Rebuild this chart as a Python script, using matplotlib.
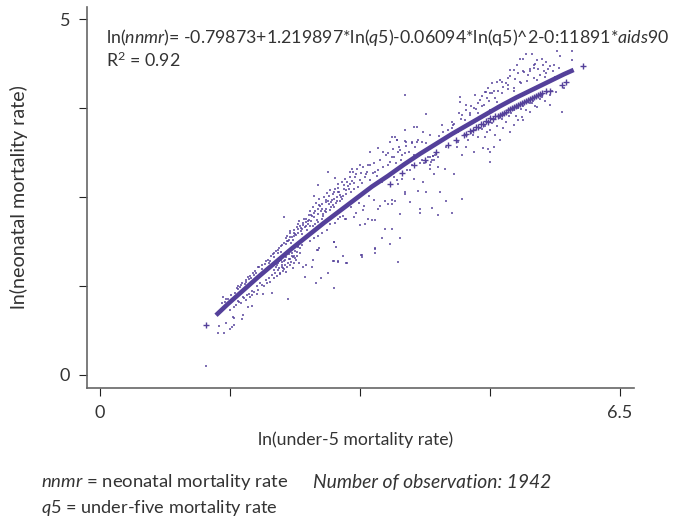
# ln(neonatal mortality) against ln(under-5 mortality)
import matplotlib
matplotlib.use("Agg")
import matplotlib.pyplot as plt

purple = "#54409a"
ink = "#333333"

plt.rcParams["font.family"] = ["Lato", "DejaVu Sans"]
plt.rcParams["mathtext.fontset"] = "custom"
plt.rcParams["mathtext.rm"] = "Lato"
plt.rcParams["mathtext.it"] = "Lato:italic"

# fitted band, aids90 = 0
curve_x = [1.45, 1.6, 1.8, 2.0, 2.2, 2.4, 2.6, 2.8, 3.0, 3.2, 3.4, 3.6, 3.8,
           4.0, 4.2, 4.4, 4.6, 4.8, 5.0, 5.2, 5.4, 5.6, 5.8, 5.92]
curve_y = [0.84, 1.0, 1.2, 1.4, 1.59, 1.78, 1.96, 2.14, 2.31, 2.48, 2.65, 2.8, 2.96,
           3.11, 3.25, 3.39, 3.52, 3.65, 3.78, 3.9, 4.01, 4.12, 4.23, 4.29]

# fitted values, aids90 = 1
band_x = [3.62, 3.78, 3.92, 4.06, 4.2, 4.35, 4.45, 4.55, 4.62, 4.7, 4.76, 4.82, 4.88, 4.94,
          5.0, 5.05, 5.1, 5.15, 5.2, 5.25, 5.3, 5.35, 5.4, 5.45, 5.5, 5.62, 5.78, 5.83,
          4.58, 4.66, 4.73, 4.79, 4.85, 4.91, 4.97, 5.03, 5.08, 5.13, 5.18, 5.23, 5.28, 5.33, 5.38, 5.43, 5.48, 5.53, 5.58]
band_y = [2.69, 2.84, 2.95, 3.03, 3.13, 3.24, 3.31, 3.38, 3.43, 3.49, 3.53, 3.57, 3.61, 3.64,
          3.66, 3.69, 3.72, 3.75, 3.78, 3.81, 3.84, 3.87, 3.89, 3.92, 3.95, 4.0, 4.08, 4.12,
          3.39, 3.44, 3.49, 3.525, 3.56, 3.6, 3.64, 3.675, 3.705, 3.735, 3.765, 3.79, 3.82, 3.85, 3.88, 3.91, 3.935, 3.96, 3.99]

# lone fitted values at both ends
end_x = [1.33, 6.04]
end_y = [0.7, 4.34]

# observations, low end
low_x = [1.33, 1.47, 1.55, 1.49, 1.58, 1.63, 1.65, 1.68, 1.66, 1.68, 1.79, 1.77, 1.85, 1.9, 2.35, 1.54, 1.57, 1.52, 1.71, 2.15, 2.04, 1.96,
         1.72, 1.75, 1.78, 1.82, 1.85, 1.88, 1.91, 1.94, 1.97, 1.99, 1.74, 1.8, 1.84, 1.87, 1.9, 1.93, 1.96, 1.98, 2.0, 2.02,
         2.03, 2.06, 2.08, 2.1, 2.12, 2.14, 2.16, 2.18, 2.2, 2.22, 2.24, 2.26, 2.28, 2.3, 2.05, 2.07, 2.09, 2.11, 2.13, 2.15, 2.17, 2.19, 2.21, 2.23, 2.25, 2.27, 2.29, 2.31,
         2.2, 2.22, 2.24, 2.26, 2.28, 2.3, 2.32, 2.34, 2.36, 2.38, 2.4, 2.42, 2.44, 2.46, 2.48, 2.5, 2.25, 2.29, 2.33, 2.37, 2.41, 2.45, 2.49, 2.27, 2.31, 2.35, 2.39, 2.43, 2.47,
         2.32, 2.34, 2.36, 2.38, 2.4, 2.42, 2.44, 2.46, 2.48, 2.5, 2.52, 2.54, 2.56, 2.58, 2.6, 2.33, 2.37, 2.41, 2.45, 2.49, 2.53, 2.57, 2.61, 2.35, 2.39, 2.43, 2.47, 2.51, 2.55, 2.59]
low_y = [0.12, 0.59, 0.59, 0.69, 0.73, 0.65, 0.68, 0.7, 0.82, 0.8, 0.84, 0.79, 0.96, 0.97, 1.07, 1.1, 1.07, 1.01, 1.22, 1.15, 1.14, 1.14,
         1.25, 1.24, 1.3, 1.33, 1.38, 1.39, 1.44, 1.46, 1.52, 1.52, 1.03, 1.08, 1.12, 1.1, 1.18, 1.17, 1.25, 1.2, 1.29, 1.26,
         1.54, 1.56, 1.6, 1.62, 1.61, 1.68, 1.7, 1.71, 1.74, 1.76, 1.78, 1.82, 1.83, 1.86, 1.25, 1.33, 1.29, 1.36, 1.31, 1.4, 1.37, 1.44, 1.39, 1.48, 1.42, 1.52, 1.46, 1.55,
         1.52, 1.58, 1.5, 1.62, 1.55, 1.6, 1.66, 1.52, 1.7, 1.63, 1.72, 1.58, 1.75, 1.68, 1.8, 1.72, 1.44, 1.5, 1.45, 1.55, 1.5, 1.62, 1.57, 1.66, 1.68, 1.74, 1.76, 1.68, 1.82,
         1.92, 1.96, 1.9, 2.0, 1.94, 2.04, 1.98, 2.08, 2.0, 2.1, 2.05, 2.14, 2.08, 2.2, 2.12, 1.84, 2.02, 1.9, 1.97, 2.16, 1.98, 2.1, 2.25, 1.88, 1.86, 1.95, 2.12, 2.02, 2.2, 2.04]

# observations, middle
mid_x = [2.92, 2.7, 2.76, 2.85, 2.56, 2.91, 2.97, 3.09, 3.04, 3.26, 3.27, 3.44, 3.44, 2.54, 2.65, 2.58, 2.66, 2.71, 2.74, 2.92, 2.95, 2.3,
         2.62, 2.64, 2.66, 2.68, 2.7, 2.72, 2.74, 2.76, 2.78, 2.8, 2.82, 2.84, 2.86, 2.88, 2.9, 2.92, 2.94, 2.96, 2.98, 3.0,
         2.63, 2.67, 2.71, 2.75, 2.79, 2.83, 2.87, 2.91, 2.95, 2.99, 3.02, 3.04, 3.06, 3.08, 3.1, 3.12, 3.14, 3.16, 3.18, 3.2,
         2.65, 2.69, 2.73, 2.77, 2.81, 2.85, 2.89, 2.93, 2.97, 3.01, 3.05, 3.09, 3.13, 3.17, 3.21, 3.25, 3.29, 3.33, 3.37, 3.41,
         2.62, 2.68, 2.72, 2.78, 2.84, 2.88, 2.94, 2.98, 3.04, 3.08, 3.14, 3.2, 3.24, 3.3, 3.36, 3.42,
         3.625, 3.75, 3.65, 3.56, 3.53, 3.44, 3.48, 3.5, 3.6, 3.56, 3.44, 3.35, 3.4, 3.29, 3.31, 3.25, 3.17, 3.06, 3.0, 2.92, 2.73, 2.92, 2.98, 3.08, 3.27, 3.73,
         2.85, 2.73, 2.67, 2.94, 3.15, 3.25, 3.375, 3.47, 3.54, 3.625, 3.71, 3.6, 3.67, 3.42, 3.48, 3.35,
         3.44, 3.5, 3.54, 3.58, 3.62, 3.66, 3.7, 3.74, 3.78, 3.82, 3.86, 3.9, 3.94, 3.98]
mid_y = [1.22, 1.29, 1.36, 1.43, 1.38, 1.6, 1.6, 1.58, 1.67, 1.69, 1.66, 1.77, 1.72, 1.52, 1.52, 1.55, 1.62, 1.76, 1.79, 1.87, 1.8, 2.22,
         2.3, 2.16, 2.36, 2.22, 2.42, 2.26, 2.48, 2.3, 2.4, 2.5, 2.34, 2.56, 2.4, 2.6, 2.46, 2.36, 2.62, 2.5, 2.68, 2.44,
         2.1, 2.28, 2.18, 2.38, 2.24, 2.46, 2.32, 2.54, 2.42, 2.58, 2.72, 2.52, 2.76, 2.6, 2.66, 2.78, 2.58, 2.86, 2.7, 2.82,
         2.24, 2.12, 2.34, 2.2, 2.3, 2.44, 2.36, 2.48, 2.58, 2.5, 2.62, 2.72, 2.68, 2.62, 2.9, 2.74, 2.92, 2.82, 2.96, 2.84,
         1.88, 1.92, 1.96, 2.0, 2.04, 2.12, 2.14, 2.2, 2.24, 2.2, 2.36, 2.28, 2.42, 2.38, 2.52, 2.46,
         1.84, 1.92, 2.06, 2.05, 1.92, 1.78, 2.34, 2.38, 2.41, 2.44, 2.18, 2.2, 2.18, 2.32, 2.13, 2.11, 2.225, 2.2, 2.22, 1.87, 1.76, 1.6, 1.59, 1.58, 1.69, 1.59,
         2.86, 2.67, 2.52, 2.77, 2.9, 2.95, 3.13, 3.19, 3.14, 3.28, 3.3, 3.12, 3.07, 2.98, 2.88, 2.95,
         2.86, 3.02, 2.92, 3.1, 3.0, 3.18, 2.98, 3.2, 3.1, 3.22, 3.14, 3.28, 3.2, 3.3]

# observations, upper end
high_x = [3.81, 4.08, 3.92, 3.96, 4.04, 4.12, 3.81, 4.27, 4.29, 4.4, 4.41, 4.48, 4.5, 4.5, 4.58, 4.67, 4.69, 4.75, 4.81, 4.88, 4.96, 4.49, 4.52, 4.625, 4.73, 4.875,
          3.65, 3.69, 3.81, 3.83, 3.71, 3.75, 3.9, 3.96, 4.02,
          3.65, 3.73, 3.81, 3.77, 3.71, 3.73, 3.875, 3.9, 3.92, 4.04, 3.81, 3.81, 3.98, 4.08, 4.25, 4.125, 4.17, 4.125, 4.15, 4.19, 4.23, 4.31, 4.42, 4.46, 4.52, 4.58, 4.67, 4.79, 4.875, 4.875, 4.52, 4.33, 3.875, 4.0, 4.15, 4.0, 4.23, 4.4, 3.75, 3.65, 3.69, 3.65,
          4.02, 4.05, 4.08, 4.1, 4.12, 4.14, 4.16, 4.18, 4.2, 4.22,
          3.46, 3.52, 3.6, 3.68, 3.76, 3.84, 3.92, 4.0, 4.08, 4.16, 4.24, 4.32, 4.4, 4.48, 4.56,
          5.71, 5.75, 5.9, 5.9, 5.4, 5.33, 5.52, 5.25, 5.29, 5.46, 5.44, 5.58, 5.21, 5.29, 5.125, 5.17, 5.375, 5.42, 5.54, 5.6, 5.69, 5.56, 5.46, 5.35, 5.25, 5.1, 5.0, 4.9, 4.96, 4.85, 4.83, 5.04, 5.1, 5.17, 4.77, 4.92,
          5.77, 5.625, 5.46, 5.375, 5.29, 5.23, 5.17, 5.04, 4.94, 5.0, 4.92, 4.85, 4.875, 4.81, 5.27, 5.125, 5.4, 5.52,
          4.6, 4.66, 4.72, 4.78, 4.84, 4.9, 4.96, 5.02, 5.08, 5.14, 5.2, 5.26, 5.32, 5.38, 5.44, 5.5, 5.56, 5.62, 5.7, 5.8,
          4.62, 4.7, 4.78, 4.86, 4.94, 5.02, 5.1, 5.18, 5.26, 5.34, 5.42, 5.5, 5.58, 5.66, 5.74]
high_y = [3.94, 3.67, 3.49, 3.49, 3.42, 3.37, 3.45, 3.51, 3.42, 3.56, 3.52, 3.42, 3.91, 3.84, 3.8, 3.75, 3.94, 3.87, 3.98, 3.96, 3.84, 3.68, 3.66, 3.68, 3.68, 3.73,
          3.35, 3.35, 3.29, 3.28, 3.3, 3.16, 3.26, 3.28, 3.28,
          3.07, 3.14, 3.12, 2.76, 2.74, 2.69, 2.88, 2.95, 2.76, 2.71, 2.58, 2.54, 2.59, 2.58, 2.58, 2.89, 2.83, 3.07, 3.02, 3.09, 2.93, 2.9, 2.83, 3.21, 3.09, 3.21, 3.14, 3.19, 3.14, 3.0, 2.47, 2.45, 2.43, 2.34, 2.35, 2.28, 2.25, 2.28, 2.26, 2.46, 2.45, 2.4,
          3.02, 2.98, 3.0, 3.06, 2.95, 3.0, 3.08, 3.02, 3.12, 3.06,
          2.8, 2.72, 2.95, 2.78, 3.03, 2.88, 3.1, 2.98, 3.26, 3.08, 3.36, 3.2, 3.47, 3.28, 3.58,
          4.55, 4.48, 4.55, 4.43, 4.51, 4.52, 4.45, 4.45, 4.45, 4.43, 4.38, 4.4, 4.36, 4.28, 4.29, 4.29, 4.31, 4.36, 4.36, 4.31, 4.19, 4.19, 4.15, 4.22, 4.12, 4.17, 4.15, 4.1, 4.12, 4.03, 3.98, 4.05, 4.08, 4.0, 3.93, 4.0,
          3.7, 3.79, 3.77, 3.7, 3.58, 3.58, 3.51, 3.47, 3.37, 3.3, 3.21, 3.18, 3.44, 3.35, 3.63, 3.42, 3.82, 3.91,
          3.3, 3.38, 3.34, 3.46, 3.42, 3.54, 3.5, 3.6, 3.56, 3.68, 3.64, 3.74, 3.72, 3.82, 3.78, 3.88, 3.86, 3.94, 3.98, 4.04,
          3.66, 3.74, 3.78, 3.86, 3.9, 3.96, 4.02, 4.04, 4.1, 4.14, 4.18, 4.22, 4.24, 4.27, 4.32]

# observations in the dense parts of the cloud
dense_x = [2.61, 2.64, 2.66, 2.69, 2.72, 2.74, 2.77, 2.79, 2.82, 2.83, 2.86, 2.89, 2.91, 2.93, 2.96, 2.97, 3.0, 3.03, 3.05, 3.07, 3.11, 3.13, 3.15, 3.19, 3.22, 3.26, 3.28, 3.31, 3.34, 3.38,
           2.03, 2.11, 2.17, 2.23, 2.26, 2.34, 2.38, 2.43, 2.47, 2.51, 2.54, 2.57, 2.6, 2.3, 2.35, 2.39, 2.41, 2.44, 2.18, 2.21, 2.24, 2.28, 2.31, 2.36, 2.4, 2.46, 2.5, 2.53,
           1.56, 1.6, 1.64, 1.69, 1.73, 1.76, 1.81, 1.83, 1.86, 1.89, 1.92, 1.95, 1.62, 1.67, 1.7, 1.73, 1.76, 1.79, 1.83, 1.86, 1.9,
           4.35, 4.43, 4.51, 4.57, 4.64, 4.72, 4.8, 4.84, 4.9, 4.97, 5.03, 5.07, 5.12, 5.19, 5.23, 5.3, 5.37, 5.43, 5.48, 5.55, 5.62, 5.68,
           4.64, 4.69, 4.75, 4.81, 4.87, 4.93, 4.99, 5.05, 5.11, 5.17, 5.23, 5.29, 5.35, 5.41, 5.47, 5.53, 5.59, 5.65]
dense_y = [2.18, 2.25, 2.09, 2.31, 2.15, 2.39, 2.33, 2.27, 2.43, 2.29, 2.52, 2.43, 2.39, 2.57, 2.45, 2.63, 2.53, 2.47, 2.67, 2.55, 2.62, 2.85, 2.73, 2.78, 2.64, 2.84, 2.7, 2.78, 2.86, 2.74,
           1.49, 1.58, 1.66, 1.71, 1.73, 1.88, 1.94, 1.99, 2.05, 2.07, 2.11, 2.15, 2.17, 1.49, 1.57, 1.59, 1.66, 1.64, 1.47, 1.54, 1.6, 1.59, 1.62, 1.63, 1.67, 1.73, 1.78, 1.83,
           1.03, 1.07, 1.12, 1.15, 1.21, 1.27, 1.28, 1.31, 1.35, 1.36, 1.41, 1.44, 0.91, 0.95, 0.98, 1.04, 1.01, 1.09, 1.06, 1.14, 1.12,
           3.45, 3.53, 3.6, 3.72, 3.78, 3.82, 3.8, 3.9, 3.97, 4.0, 4.12, 4.1, 4.2, 4.16, 4.24, 4.26, 4.28, 4.32, 4.3, 4.28, 4.34, 4.36,
           3.4, 3.44, 3.48, 3.5, 3.56, 3.6, 3.62, 3.66, 3.64, 3.72, 3.76, 3.78, 3.84, 3.86, 3.92, 3.94, 3.98, 4.0]

x_ticks = [0, 1.625, 3.25, 4.875, 6.5]
x_labels = ["0", "", "", "", "6.5"]
y_ticks = [0, 1.25, 2.5, 3.75, 5]
y_labels = ["0", "", "", "", "5"]

W, H = 674, 519
fig = plt.figure(figsize=(W / 100, H / 100), dpi=100)
ax = fig.add_axes([87 / W, 1 - 388 / H, (634 - 87) / W, (388 - 7) / H])

ax.scatter(low_x + mid_x + high_x + dense_x, low_y + mid_y + high_y + dense_y, s=1.5, marker="s", color=purple, linewidths=0, alpha=0.75)
ax.plot(curve_x, curve_y, color=purple, lw=3.3, solid_capstyle="butt")
ax.plot(band_x, band_y, "+", color=purple, ms=5, mew=1.0)
ax.plot(end_x, end_y, "+", color=purple, ms=5, mew=1.0)

ax.set_xlim(-0.1625, 6.675)
ax.set_ylim(-0.183, 5.175)
ax.set_xticks(x_ticks, x_labels)
ax.set_yticks(y_ticks, y_labels)
ax.tick_params(axis="both", length=6, width=0.8, color="#222222", labelcolor=ink, labelsize=13, pad=6)
for side in ["top", "right"]:
    ax.spines[side].set_visible(False)
for side in ["left", "bottom"]:
    ax.spines[side].set_color("#666666")
    ax.spines[side].set_linewidth(1.2)

def label(px, py, s, **kw):
    fig.text(px / W, 1 - py / H, s, color=ink, fontsize=kw.pop("fontsize", 12.8), va="center", **kw)

label(106, 37, r"ln($\mathit{nnmr}$)= -0.79873+1.219897*ln($\mathit{q5}$)-0.06094*ln(q5)^2-0:11891*$\mathit{aids}$90")
label(106, 60, r"R$^{\mathit{2}}$ = 0.92")
label(19, 197, "ln(neonatal mortality rate)", rotation=90, ha="center", fontsize=14.2)
label(356, 440, "ln(under-5 mortality rate)", ha="center", fontsize=12.7)
label(41, 482, r"$\mathit{nnmr}$ = neonatal mortality rate", fontsize=13.3)
label(313, 482, "Number of observation: 1942", style="italic", fontsize=13.9)
label(41, 508, r"$\mathit{q5}$ = under-five mortality rate", fontsize=13.1)

fig.savefig("out.png", dpi=100)
